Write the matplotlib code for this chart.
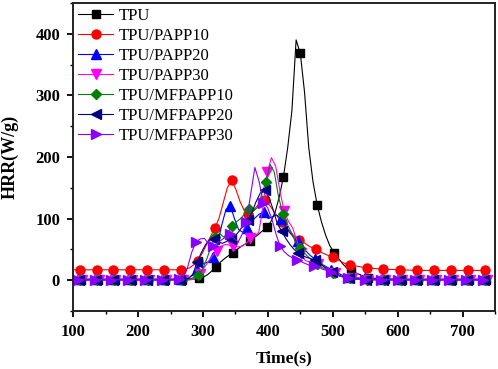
import numpy as np
import matplotlib
matplotlib.use('Agg')
import matplotlib.pyplot as plt

# Time grid (s): coarse on the flat parts, finer through the peaks
t_base = np.array([84, 110, 136, 162, 188, 214, 240,
                   266, 272.5, 279, 285.5, 292, 298.5, 305, 311.5, 318, 324.5,
                   331, 337.5, 344, 350.5, 357, 363.5, 370, 376.5, 383, 389.5,
                   396, 402.5, 409, 415.5, 422, 428.5, 435, 441.5, 448, 454.5,
                   461, 467.5, 474, 480.5, 487, 493.5, 500, 506.5, 513, 519.5, 526,
                   552, 578, 604, 630, 656, 682, 708, 734])

# HRR values (W/g)
hrr_tpu = [1, 1, 1, 1, 1, 1, 1,
           1, 1, 2, 2, 3, 5, 9, 15, 22, 29,
           35, 40, 45, 50, 55, 59, 64, 69, 74, 80,
           86, 95, 110, 135, 168, 215, 275, 390, 368, 305,
           215, 160, 122, 95, 73, 56, 45, 36, 27, 20, 15,
           4, 2, 1, 1, 1, 1, 1, 1]
hrr_papp10 = [17, 17, 17, 17, 17, 17, 17,
              17, 18, 20, 25, 31, 43, 57, 71, 84, 100,
              125, 150, 162, 148, 128, 113, 108, 112, 120, 127,
              130, 122, 112, 102, 94, 86, 78, 71, 66, 62,
              57, 53, 50, 46, 43, 40, 38, 34, 30, 27, 25,
              20, 18, 17, 16, 16, 16, 16, 16]
hrr_papp20 = [2, 2, 2, 2, 2, 2, 2,
              2, 2, 3, 8, 17, 24, 28, 30, 38, 60,
              90, 115, 121, 100, 82, 78, 85, 95, 102, 108,
              110, 100, 103, 106, 100, 88, 78, 70, 63, 55,
              47, 40, 35, 30, 25, 21, 17, 13, 10, 7, 5,
              3, 2, 2, 2, 2, 2, 2, 2]
hrr_papp30 = [0, 0, 0, 0, 0, 0, 0,
              0, 0, 1, 4, 10, 20, 30, 40, 48, 55,
              58, 57, 55, 54, 55, 60, 68, 72, 78, 120,
              175, 199, 185, 145, 112, 96, 85, 65, 45, 32,
              30, 28, 26, 24, 20, 15, 11, 8, 6, 4, 3,
              1, 0, 0, 0, 0, 0, 0, 0]
hrr_mfpapp10 = [1, 1, 1, 1, 1, 1, 1,
                1, 1, 2, 5, 8, 18, 35, 55, 70, 76,
                70, 78, 88, 95, 100, 108, 115, 112, 118, 140,
                160, 188, 175, 135, 108, 92, 78, 62, 52, 45,
                38, 32, 27, 22, 18, 14, 11, 8, 6, 4, 3,
                1, 1, 1, 1, 1, 1, 1, 1]
hrr_mfpapp20 = [1, 1, 1, 1, 1, 1, 1,
                1, 2, 3, 10, 30, 45, 58, 66, 67, 62,
                60, 63, 67, 72, 80, 90, 97, 110, 128, 142,
                146, 135, 115, 92, 80, 68, 58, 50, 44, 40,
                37, 35, 33, 28, 22, 17, 13, 10, 7, 5, 3,
                1, 1, 1, 1, 1, 1, 1, 1]
hrr_mfpapp30 = [1, 1, 1, 1, 1, 1, 1,
                2, 5, 20, 45, 62, 67, 68, 60, 55, 60,
                65, 70, 75, 68, 62, 75, 95, 140, 183, 160,
                125, 118, 100, 75, 55, 46, 40, 36, 33, 30,
                27, 24, 23, 22, 18, 16, 13, 10, 7, 5, 3,
                1, 1, 1, 1, 1, 1, 1, 1]

labels = ['TPU', 'TPU/PAPP10', 'TPU/PAPP20', 'TPU/PAPP30',
          'TPU/MFPAPP10', 'TPU/MFPAPP20', 'TPU/MFPAPP30']
series = [hrr_tpu, hrr_papp10, hrr_papp20, hrr_papp30,
          hrr_mfpapp10, hrr_mfpapp20, hrr_mfpapp30]
time_shift = [2, 0, -2, 3, 1, -1, -3]

colors = ['black', '#ff0000', '#0000ff', '#ff00ff', '#008000', '#000080', '#8a00ff']
markers = ['s', 'o', '^', 'v', 'D', '<', '>']
msizes = [5.5, 6.5, 6.5, 6.5, 5.5, 6.5, 6.5]

plt.rcParams['font.family'] = ['Liberation Serif', 'DejaVu Serif']

fig = plt.figure(figsize=(4.98, 3.69), dpi=100)
ax = fig.add_axes([0.147, 0.157, 0.847, 0.835])

# markers every 26 s
mark = ((t_base - 110) % 26 == 0)

for y, lab, c, m, ms, dt in zip(series, labels, colors, markers, msizes, time_shift):
    ax.plot(t_base + dt, y, color=c, lw=0.8, marker=m, ms=ms,
            markevery=list(mark), label=lab)

ax.set_xlim(100, 750)
ax.set_ylim(-50, 450)
ax.set_xticks(np.arange(100, 701, 100))
ax.set_xticks(np.arange(100, 751, 50), minor=True)
ax.set_yticks(np.arange(0, 401, 100))
ax.set_yticks(np.arange(-50, 451, 50), minor=True)
ax.tick_params(which='major', direction='out', length=4.5, width=1.3, pad=5, labelsize=12)
ax.tick_params(which='minor', direction='out', length=2.5, width=1.0)
for lbl in ax.get_xticklabels() + ax.get_yticklabels():
    lbl.set_fontweight('bold')
for sp in ax.spines.values():
    sp.set_linewidth(1.4)
    sp.set_color('#222222')

ax.set_xlabel('Time(s)', fontsize=12.5, fontweight='bold', labelpad=7)
ax.set_ylabel('HRR(W/g)', fontsize=13, fontweight='bold', labelpad=12)

ax.legend(loc='upper left', frameon=False, fontsize=12, handlelength=2.1,
          labelspacing=0.24, borderaxespad=0.0, borderpad=0.3, handletextpad=0.35)

plt.savefig('out.png', dpi=100)
